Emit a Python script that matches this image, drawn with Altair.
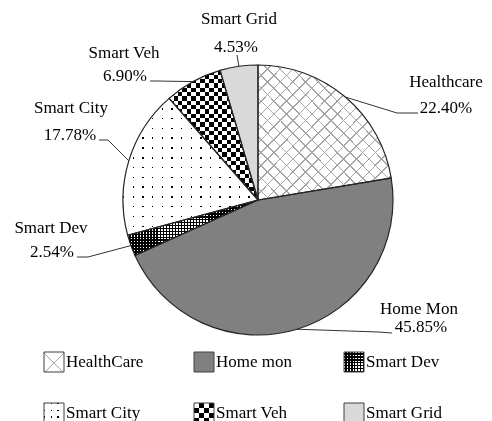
import math
import pandas as pd
import altair as alt

# ---------------- data ----------------
categories = ["Healthcare", "Home Mon", "Smart Dev", "Smart City", "Smart Veh", "Smart Grid"]
shares = [22.40, 45.85, 2.54, 17.78, 6.90, 4.53]
legend_labels = ["HealthCare", "Home mon", "Smart Dev", "Smart City", "Smart Veh", "Smart Grid"]

# ---------------- layout / style ----------------
CX, CY, R = 250, 192, 135
FONT = "Liberation Serif"
FS = 17
name_xy = {"Healthcare": (438, 74), "Home Mon": (411, 301), "Smart Dev": (43, 220),
           "Smart City": (63, 100), "Smart Veh": (116, 45), "Smart Grid": (231, 11)}
pct_xy = {"Healthcare": (438, 100), "Home Mon": (413, 319), "Smart Dev": (44, 244),
          "Smart City": (62, 127), "Smart Veh": (117, 68), "Smart Grid": (228, 39)}
leader_via = {"Healthcare": [(389, 105), (410, 105)],
              "Home Mon": [(370, 324), (384, 325)],
              "Smart Dev": [(80, 249), (69, 249)],
              "Smart City": [(100, 132), (91, 132)],
              "Smart Veh": [(149, 73), (142, 73)],
              "Smart Grid": [(229, 47)]}
LEG_X0, LEG_DX, LEG_Y0, LEG_DY = 46, 150, 354, 51
base_colors = ["#ffffff", "#808080", "#000000", "#ffffff", "#ffffff", "#d9d9d9"]
CLEAR = "rgba(255,255,255,0)"


def stripes(n, duty, on, off, x1=0.0, y1=0.0, x2=1.0, y2=0.0):
    stops = []
    for i in range(n):
        a, b, c = i / n, (i + duty) / n, (i + 1) / n
        stops += [{"offset": round(a, 5), "color": on}, {"offset": round(b, 5), "color": on},
                  {"offset": round(b, 5), "color": off}, {"offset": round(c, 5), "color": off}]
    return {"gradient": "linear", "x1": x1, "y1": y1, "x2": x2, "y2": y2, "stops": stops}


pie_patterns = {
    "Healthcare": [(stripes(21, 0.12, "#a6a6a6", CLEAR, 0, 0, 1, 1), None),
                   (stripes(21, 0.12, "#a6a6a6", CLEAR, 1, 0, 0, 1), None)],
    "Smart Dev": [(stripes(43, 0.5, "white", "black"), None),
                  (stripes(19, 0.5, "white", "black", 0, 0, 0, 1), "darken")],
    "Smart City": [(stripes(14, 0.15, "black", "white"), None),
                   (stripes(14, 0.15, "black", "white", 0, 0, 0, 1), "lighten")],
    "Smart Veh": [(stripes(10, 0.5, "black", "white"), None),
                  (stripes(15, 0.5, "white", CLEAR, 0, 0, 0, 1), "difference")],
}
legend_patterns = {
    "Healthcare": [(stripes(2, 0.08, "#a6a6a6", CLEAR, 0, 0, 1, 1), None),
                   (stripes(2, 0.08, "#a6a6a6", CLEAR, 1, 0, 0, 1), None)],
    "Smart Dev": [(stripes(7, 0.5, "white", "black"), None),
                  (stripes(7, 0.5, "white", "black", 0, 0, 0, 1), "darken")],
    "Smart City": [(stripes(3, 0.2, "black", "white"), None),
                   (stripes(3, 0.2, "black", "white", 0, 0, 0, 1), "lighten")],
    "Smart Veh": [(stripes(2, 0.5, "black", "white"), None),
                  (stripes(2, 0.5, "white", CLEAR, 0, 0, 0, 1), "difference")],
}

# ---------------- tables ----------------
df = pd.DataFrame({"cat": categories, "share": shares, "order": list(range(len(categories))),
                   "legend": legend_labels})
df["lx"] = [LEG_X0 + LEG_DX * (i % 3) for i in range(len(categories))]
df["ly"] = [LEG_Y0 + LEG_DY * (i // 3) for i in range(len(categories))]
df["tx"] = df["lx"] + 12

rows_t = []
rows_l = []
cum = 0.0
for c, s in zip(categories, shares):
    mid = cum + s / 2
    cum += s
    ang = mid / 100 * 2 * math.pi
    ex, ey = CX + R * math.sin(ang), CY - R * math.cos(ang)
    rows_l.append({"cat": c, "k": 0, "px": ex, "py": ey})
    for k, (vx, vy) in enumerate(leader_via[c], start=1):
        rows_l.append({"cat": c, "k": k, "px": vx, "py": vy})
    rows_t.append({"text": c, "px": name_xy[c][0], "py": name_xy[c][1]})
    rows_t.append({"text": f"{s:.2f}%", "px": pct_xy[c][0], "py": pct_xy[c][1]})
text_df = pd.DataFrame(rows_t)
lead_df = pd.DataFrame(rows_l)

fill_scale = alt.Scale(domain=categories, range=base_colors)

# ---------------- pie ----------------
pie = alt.Chart(df).transform_window(
    cum="sum(share)", sort=[alt.SortField("order")], frame=[None, 0]
).transform_calculate(start="datum.cum - datum.share")
enc_arc = dict(theta=alt.Theta("start:Q", scale=alt.Scale(domain=[0, 100])),
               theta2=alt.Theta2("cum:Q"), x=alt.value(CX), y=alt.value(CY))

layers = [pie.mark_arc(radius=R).encode(fill=alt.Fill("cat:N", scale=fill_scale, legend=None), **enc_arc)]
for c, pats in pie_patterns.items():
    for grad, blend in pats:
        kw = {"radius": R, "fill": grad}
        if blend:
            kw["blend"] = blend
        layers.append(pie.transform_filter(alt.datum.cat == c).mark_arc(**kw).encode(**enc_arc))
layers.append(pie.mark_arc(radius=R, fill="white", fillOpacity=0, stroke="#262626",
                           strokeWidth=1.2).encode(**enc_arc))

# ---------------- leaders & labels ----------------
layers.append(alt.Chart(lead_df).mark_line(color="#333333", strokeWidth=1).encode(
    x=alt.X("px:Q", scale=None, axis=None), y=alt.Y("py:Q", scale=None, axis=None),
    detail="cat:N", order="k:Q"))
layers.append(alt.Chart(text_df).mark_text(font=FONT, fontSize=FS, color="black",
                                           align="center", baseline="middle").encode(
    x=alt.X("px:Q", scale=None, axis=None), y=alt.Y("py:Q", scale=None, axis=None), text="text:N"))

# ---------------- legend ----------------
leg = alt.Chart(df)
enc_sq = dict(x=alt.X("lx:Q", scale=None, axis=None), y=alt.Y("ly:Q", scale=None, axis=None))
layers.append(leg.mark_square(size=400, opacity=1).encode(
    fill=alt.Fill("cat:N", scale=fill_scale, legend=None), **enc_sq))
for c, pats in legend_patterns.items():
    for grad, blend in pats:
        kw = {"size": 400, "opacity": 1, "fill": grad}
        if blend:
            kw["blend"] = blend
        layers.append(leg.transform_filter(alt.datum.cat == c).mark_square(**kw).encode(**enc_sq))
layers.append(leg.mark_square(size=400, fill="white", fillOpacity=0, stroke="#404040",
                              strokeWidth=1).encode(**enc_sq))
layers.append(leg.mark_text(font=FONT, fontSize=FS, color="black", align="left",
                            baseline="middle").encode(
    x=alt.X("tx:Q", scale=None, axis=None), y=alt.Y("ly:Q", scale=None, axis=None), text="legend:N"))

chart = alt.layer(*layers).properties(
    width=476, height=413, padding=0, autosize=alt.AutoSizeParams(type="none")
).configure(background="white").configure_view(strokeWidth=0, strokeOpacity=0)

chart.save("out.html", embed_options={"renderer": "svg", "actions": False})
